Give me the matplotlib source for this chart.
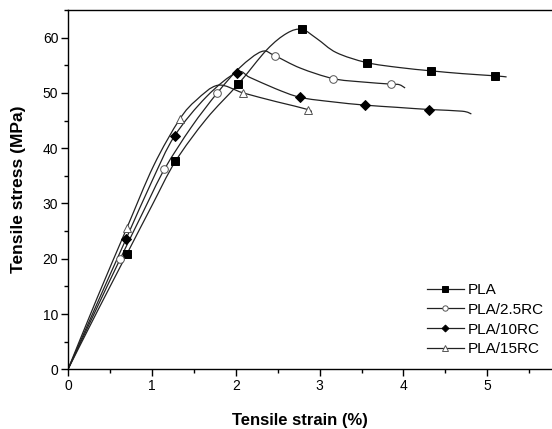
import matplotlib
matplotlib.use("Agg")
import matplotlib.pyplot as plt
from matplotlib.ticker import MultipleLocator, FixedLocator
from matplotlib.path import Path
from matplotlib.patches import PathPatch

plt.rcParams['font.family'] = ['Liberation Sans', 'DejaVu Sans']

# Curve traces
pla_x = [0, 0.35, 0.70, 1.00, 1.28, 1.65, 2.03, 2.37, 2.61, 2.79, 2.97, 3.20, 3.56, 3.95, 4.33, 4.70, 5.09, 5.23]
pla_y = [0, 10.5, 20.8, 29.6, 37.6, 45.3, 51.6, 57.8, 60.8, 61.5, 59.8, 57.3, 55.5, 54.6, 54.0, 53.5, 53.1, 52.9]
rc25_x = [0, 0.31, 0.62, 0.90, 1.15, 1.47, 1.78, 2.05, 2.31, 2.47, 2.77, 3.16, 3.50, 3.85, 3.95, 4.02]
rc25_y = [0, 10.0, 19.9, 28.6, 36.2, 43.8, 50.0, 54.6, 57.5, 56.7, 54.5, 52.6, 52.0, 51.6, 51.5, 50.9]
rc10_x = [0, 0.35, 0.69, 1.00, 1.27, 1.65, 2.01, 2.17, 2.47, 2.77, 3.15, 3.54, 3.92, 4.31, 4.70, 4.81]
rc10_y = [0, 12.0, 23.5, 34.0, 42.2, 49.3, 53.7, 52.8, 50.8, 49.2, 48.4, 47.8, 47.4, 47.0, 46.7, 46.2]
rc15_x = [0, 0.35, 0.70, 1.02, 1.33, 1.53, 1.79, 2.09, 2.49, 2.86, 2.90]
rc15_y = [0, 13.0, 25.5, 36.8, 45.2, 48.7, 51.4, 50.0, 48.4, 47.0, 46.4]

# Marker positions
pla_mx = [0.70, 1.28, 2.03, 2.79, 3.56, 4.33, 5.09]
pla_my = [20.8, 37.6, 51.6, 61.5, 55.5, 54.0, 53.1]
rc25_mx = [0.62, 1.15, 1.78, 2.47, 3.16, 3.85]
rc25_my = [19.9, 36.2, 50.0, 56.7, 52.6, 51.6]
rc10_mx = [0.69, 1.27, 2.01, 2.77, 3.54, 4.31]
rc10_my = [23.5, 42.2, 53.7, 49.2, 47.8, 47.0]
rc15_mx = [0.70, 1.33, 2.09, 2.86]
rc15_my = [25.5, 45.2, 50.0, 47.0]

labels = ['PLA', 'PLA/2.5RC', 'PLA/10RC', 'PLA/15RC']
xticks = [0, 1, 2, 3, 4, 5]
yticks = [0, 10, 20, 30, 40, 50, 60]


def smooth_path(xs, ys):
    """Catmull-Rom curve through the read points, drawn as Bezier segments."""
    pts = list(zip(xs, ys))
    verts = [pts[0]]
    codes = [Path.MOVETO]
    n = len(pts)
    for i in range(n - 1):
        p0 = pts[i - 1] if i > 0 else pts[i]
        p1 = pts[i]
        p2 = pts[i + 1]
        p3 = pts[i + 2] if i + 2 < n else pts[i + 1]
        c1 = (p1[0] + (p2[0] - p0[0]) / 6, p1[1] + (p2[1] - p0[1]) / 6)
        c2 = (p2[0] - (p3[0] - p1[0]) / 6, p2[1] - (p3[1] - p1[1]) / 6)
        verts += [c1, c2, p2]
        codes += [Path.CURVE4] * 3
    return Path(verts, codes)


W, H = 552, 429
fig = plt.figure(figsize=(W/100, H/100), dpi=100)
x0 = 68; y0 = 369.3; ux = 83.86; uy = 5.527
xmax = 6.0; ymax = 65
ax = fig.add_axes([x0/W, (H-y0)/H, xmax*ux/W, ymax*uy/H])
ax.set_xlim(0, xmax)
ax.set_ylim(0, ymax)

lc = '#222222'
series = [
    (pla_x, pla_y, pla_mx, pla_my, 's', 'black'),
    (rc25_x, rc25_y, rc25_mx, rc25_my, 'o', 'white'),
    (rc10_x, rc10_y, rc10_mx, rc10_my, 'D', 'black'),
    (rc15_x, rc15_y, rc15_mx, rc15_my, '^', 'white'),
]
handles = []
for (cx, cy, mx, my, mk, fc), lab in zip(series, labels):
    ax.add_patch(PathPatch(smooth_path(cx, cy), fill=False, edgecolor=lc, lw=0.9, zorder=2))
    ms = 5.5 if mk != 'D' else 5.0
    ec = 'black' if fc == 'black' else '#555555'
    ax.plot(mx, my, linestyle='none', marker=mk, ms=ms, mfc=fc, mec=ec, mew=0.7, zorder=3)
    h, = ax.plot([], [], color=lc, lw=0.9, marker=mk, ms=ms*0.7, mfc=fc, mec=ec, mew=0.7)
    handles.append(h)

ax.xaxis.set_major_locator(FixedLocator(xticks))
ax.xaxis.set_minor_locator(FixedLocator([0.5, 1.5, 2.5, 3.5, 4.5, 5.5]))
ax.yaxis.set_major_locator(FixedLocator(yticks))
ax.yaxis.set_minor_locator(MultipleLocator(5))
ax.tick_params(which='major', direction='out', length=5, width=1, labelsize=10, pad=2)
ax.tick_params(which='minor', direction='out', length=3, width=1)
ax.spines['right'].set_visible(False)
for s in ['left', 'bottom', 'top']:
    ax.spines[s].set_linewidth(1.0)

ax.set_xlabel('Tensile strain (%)', fontsize=12, fontweight='bold')
ax.xaxis.set_label_coords((300 - x0) / (xmax * ux), -(420 - y0) / (ymax * uy), transform=ax.transAxes)
ax.xaxis.label.set_va('center')
ax.set_ylabel('Tensile stress (MPa)', fontsize=12.5, fontweight='bold', labelpad=12)

leg = ax.legend(handles, labels, loc='upper left', bbox_to_anchor=(427/W, (H-283)/H),
                bbox_transform=fig.transFigure, frameon=False, fontsize=11,
                handlelength=2.4, handletextpad=0.25, labelspacing=0.38, borderpad=0,
                borderaxespad=0)

fig.savefig('out.png', dpi=100)
